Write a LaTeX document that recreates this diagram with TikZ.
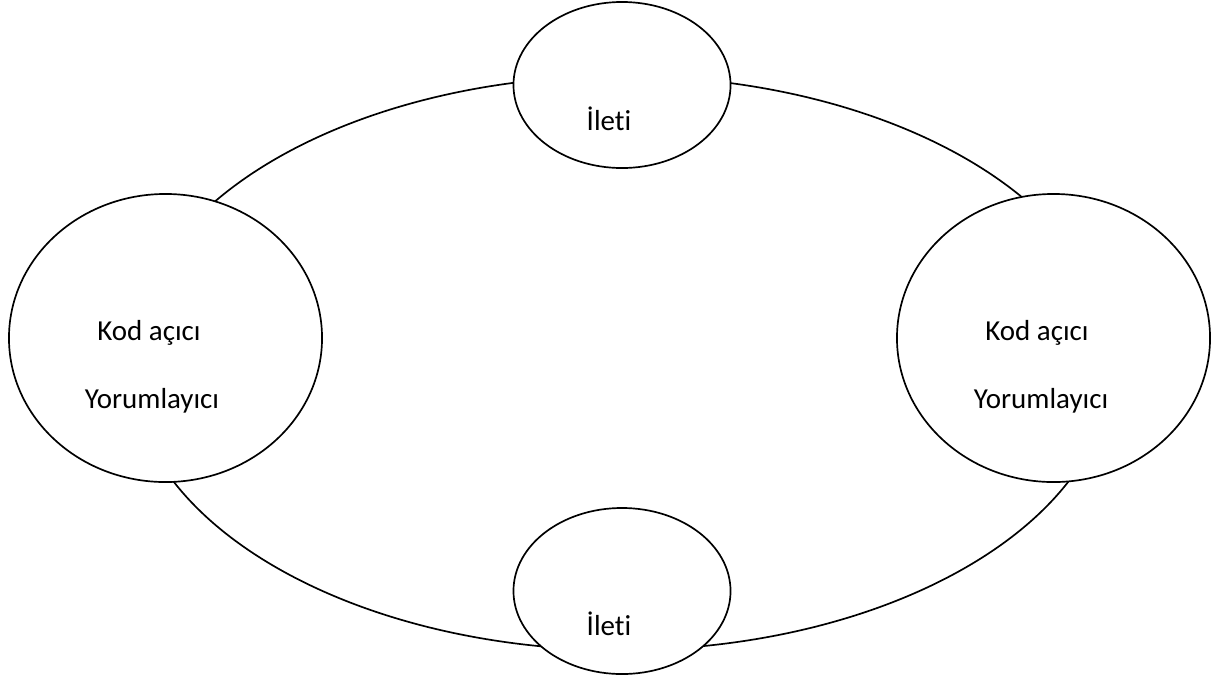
\documentclass[tikz,border=0pt]{standalone}
\usepackage{fontspec}
\setmainfont{Carlito}[Ligatures=NoCommon]
\usepackage{tikz}
\usetikzlibrary{positioning,shapes}

\begin{document}
\begin{tikzpicture}[x=0.025cm, y=-0.025cm,
	ring/.style={ellipse, draw, line width=1.2pt, inner sep=0pt, minimum width=24.55cm, minimum height=14.35cm},
	msg/.style={ellipse, draw, fill=white, line width=1.2pt, inner sep=0pt, minimum width=5.425cm, minimum height=4.15cm},
	dec/.style={ellipse, draw, fill=white, line width=1.2pt, inner sep=0pt, minimum width=7.825cm, minimum height=7.2cm},
	txt/.style={anchor=base, inner sep=0pt, font=\fontsize{20.6}{24}\selectfont}]

	\useasboundingbox (0,0) rectangle (1214,680);

	\node[ring] (Ring) at (621,363) {};

	\node[msg] (MsgTop) at (622,85) {};
	\node[msg] (MsgBot) at (622,591) {};
	\node[dec] (DecL) at (165.5,338) {};
	\node[dec] (DecR) at (1053.5,338) {};

	\node[txt] (MsgTopT) at (609,130) {İleti};
	\node[txt] (MsgBotT) at (609,635) {İleti};
	\node[txt] (DecLa) at (149,340) {Kod açıcı};
	\node[txt] (DecLb) at (152,408) {Yorumlayıcı};
	\node[txt] (DecRa) at (1037,340) {Kod açıcı};
	\node[txt] (DecRb) at (1041,408) {Yorumlayıcı};

\end{tikzpicture}
\end{document}
